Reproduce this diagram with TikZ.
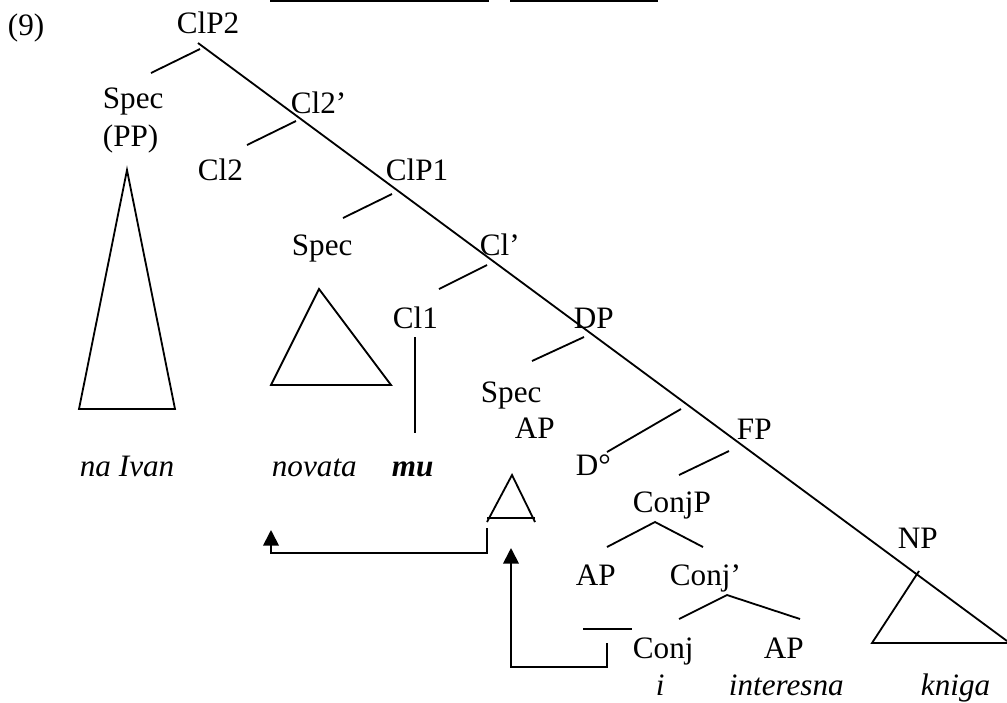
\documentclass[tikz,border=0pt]{standalone}
\usepackage{fontspec}
\setmainfont{Liberation Serif}
\usetikzlibrary{arrows.meta}

\begin{document}
\begin{tikzpicture}[x=0.385pt, y=-0.385pt, line width=0.7pt]
\tikzstyle{lab}=[anchor=base west, inner sep=0pt, font=\fontsize{12}{14.4}\selectfont]
\tikzstyle{word}=[anchor=base west, inner sep=0pt, font=\fontsize{12}{14.4}\selectfont\itshape]
\tikzstyle{move}=[-{Triangle[length=6pt,width=6pt]}]
\useasboundingbox (0,0) rectangle (1007,702);
\clip (0,0) rectangle (1007,702);

% boxes cut off at the top
\draw[line width=1pt] (271,-40) rectangle (488,1);
\draw[line width=1pt] (511,-40) rectangle (657,1);

% labels
\node[lab] (ex) at (7,35) {(9)};
\node[lab] (clp2) at (176,33) {ClP2};
\node[lab] (spec1) at (102,108) {Spec};
\node[lab] (pp) at (102,146) {(PP)};
\node[lab] (cl2bar) at (290,113) {Cl2'};
\node[lab] (cl2) at (197,180) {Cl2};
\node[lab] (clp1) at (385,180) {ClP1};
\node[lab] (spec2) at (291,255) {Spec};
\node[lab] (clbar) at (479,255) {Cl'};
\node[lab] (cl1) at (392,328) {Cl1};
\node[lab] (dp) at (573,328) {DP};
\node[lab] (spec3) at (480,402) {Spec};
\node[lab] (ap1) at (514,438) {AP};
\node[lab] (fp) at (736,439) {FP};
\node[lab] (dzero) at (575,475) {D°};
\node[lab] (conjp) at (632,512) {ConjP};
\node[lab] (np) at (897,548) {NP};
\node[lab] (ap2) at (575,585) {AP};
\node[lab] (conjbar) at (669,585) {Conj'};
\node[lab] (conj) at (632,658) {Conj};
\node[lab] (ap3) at (763,658) {AP};

\node[word] (naivan) at (79,476) {na Ivan};
\node[word] (novata) at (271,476) {novata};
\node[word] (mu) at (391,476) {\bfseries mu};
\node[word] (i) at (655,695) {i};
\node[word] (interesna) at (728,695) {interesna};
\node[word] (kniga) at (920,695) {kniga};

% spine
\coordinate (top) at (198,43);
\coordinate (bot) at (1007,641);
\draw (top) -- (bot);

% branch ends
\coordinate (s1) at (200,49);  \coordinate (e1) at (151,73);
\coordinate (s2) at (296,121); \coordinate (e2) at (247,145);
\coordinate (s3) at (392,194); \coordinate (e3) at (343,218);
\coordinate (s4) at (487,265); \coordinate (e4) at (439,289);
\coordinate (s5) at (584,337); \coordinate (e5) at (532,361);
\coordinate (s6) at (681,409); \coordinate (e6) at (607,452);
\coordinate (s7) at (729,451); \coordinate (e7) at (679,475);
\draw (s1) -- (e1);
\draw (s2) -- (e2);
\draw (s3) -- (e3);
\draw (s4) -- (e4);
\draw (s5) -- (e5);
\draw (s6) -- (e6);
\draw (s7) -- (e7);

% ConjP and Conj'
\coordinate (cpl) at (607,547); \coordinate (cpt) at (655,522); \coordinate (cpr) at (703,547);
\coordinate (cbl) at (679,619); \coordinate (cbt) at (727,595); \coordinate (cbr) at (800,619);
\draw (cpl) -- (cpt) -- (cpr);
\draw (cbl) -- (cbt) -- (cbr);
\coordinate (gl) at (583,629); \coordinate (gr) at (632,629);
\draw (gl) -- (gr);

% Cl1 to mu
\coordinate (cl1a) at (415,337); \coordinate (cl1b) at (415,433);
\draw (cl1a) -- (cl1b);

% triangles
\coordinate (t1) at (127,170); \coordinate (t1l) at (79,409); \coordinate (t1r) at (175,409);
\draw (t1) -- (t1l) -- (t1r) -- cycle;
\coordinate (t2) at (319,289); \coordinate (t2l) at (271,385); \coordinate (t2r) at (391,385);
\draw (t2) -- (t2l) -- (t2r) -- cycle;
\coordinate (t3) at (512,475); \coordinate (t3l) at (487,522); \coordinate (t3r) at (535,522);
\draw (t3l) -- (t3) -- (t3r);
\draw (487,518) -- (535,518);
\coordinate (t4) at (919,571); \coordinate (t4l) at (872,643);
\draw (t4) -- (t4l) -- (1007,643);

% movement arrows
\coordinate (m1a) at (487,528); \coordinate (m1b) at (271,530);
\draw[move] (m1a) |- (271,553) -- (m1b);
\coordinate (m2a) at (607,643); \coordinate (m2b) at (511,548);
\draw[move] (m2a) |- (511,667) -- (m2b);

\end{tikzpicture}
\end{document}
